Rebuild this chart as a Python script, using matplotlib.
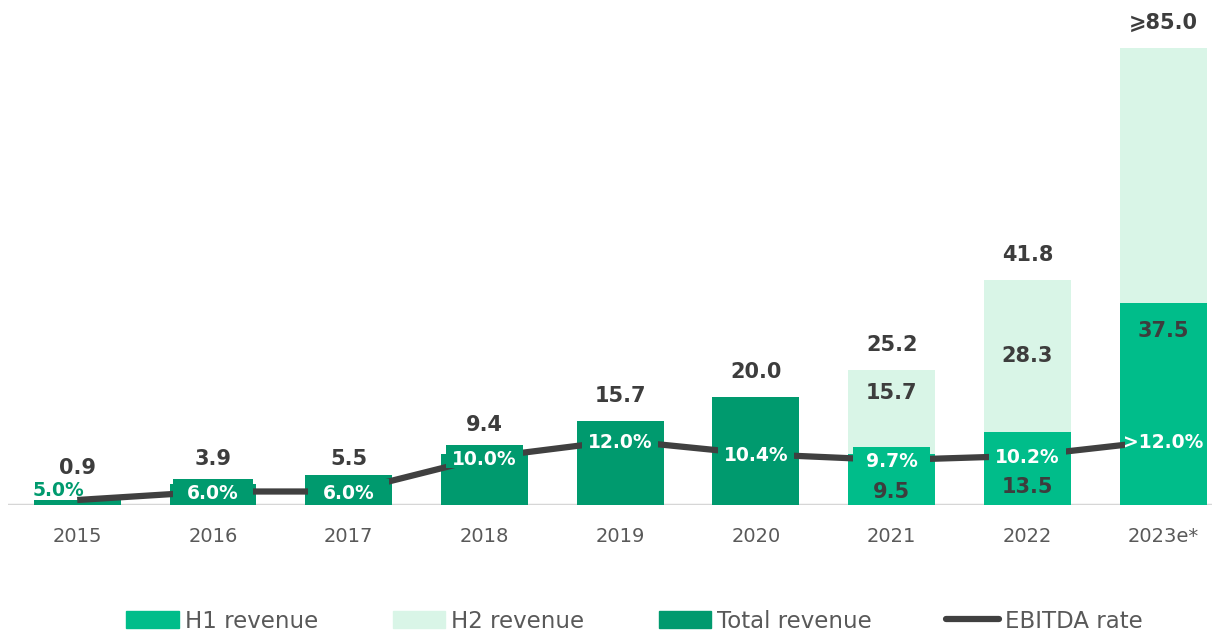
import matplotlib
matplotlib.use("Agg")
import matplotlib.pyplot as plt
from matplotlib.patches import Patch
from matplotlib.lines import Line2D
import numpy as np

years = ["2015", "2016", "2017", "2018", "2019", "2020", "2021", "2022", "2023e*"]
total_revenue = [0.9, 3.9, 5.5, 9.4, 15.7, 20.0, None, None, None]
h1_revenue = [None, None, None, None, None, None, 9.5, 13.5, 37.5]
h2_revenue = [None, None, None, None, None, None, 15.7, 28.3, 47.5]
top_labels = ["0.9", "3.9", "5.5", "9.4", "15.7", "20.0", "25.2", "41.8", "\u2a7e85.0"]
h1_labels = [None, None, None, None, None, None, "9.5", "13.5", "37.5"]
h2_labels = [None, None, None, None, None, None, "15.7", "28.3", None]
ebitda_rate = [5.0, 6.0, 6.0, 10.0, 12.0, 10.4, 9.7, 10.2, 12.0]
rate_labels = ["5.0%", "6.0%", "6.0%", "10.0%", "12.0%", "10.4%", "9.7%", "10.2%", ">12.0%"]

C_H1 = "#00bd8a"
C_H2 = "#d9f5e7"
C_TOTAL = "#009a6e"
C_LINE = "#404040"
C_TEXT = "#3d3d3d"

fig = plt.figure(figsize=(12.12, 6.37), dpi=100)
ax = fig.add_axes([8 / 1212, 1 - 505 / 637, 1 - 8 / 1212, 505 / 637])
ax2 = ax.twinx()

x = np.arange(len(years))
w = 0.64

tot = [v if v is not None else 0 for v in total_revenue]
h1 = [v if v is not None else 0 for v in h1_revenue]
h2 = [v if v is not None else 0 for v in h2_revenue]
ax.bar(x, tot, w, color=C_TOTAL, zorder=2)
ax.bar(x, h1, w, color=C_H1, zorder=2)
ax.bar(x, h2, w, bottom=h1, color=C_H2, zorder=2)

ax.set_xlim(-0.51, 8.36)
ax.set_ylim(0, 505 / 5.376)
ax2.set_ylim((542.5 - 505) / 8.5, 542.5 / 8.5)

# line + label boxes on secondary axis
ax2.plot(x, ebitda_rate, color=C_LINE, lw=4.5, solid_capstyle="butt", zorder=3)
box_up, box_down = 1.5, 1.2
box_colors = [C_TOTAL] * 6 + [C_H1] * 3
for i in range(1, len(years)):
    bw = w * 0.93 if i < 3 else w * 0.88
    ax2.bar(x[i], box_up + box_down, bw, bottom=ebitda_rate[i] - box_down,
            color=box_colors[i], zorder=4)
    ax2.text(x[i], ebitda_rate[i] - 0.2, rate_labels[i], ha="center", va="center",
             color="white", fontsize=13.5, fontweight="bold", zorder=5)
ax2.text(x[0] - w / 2 - 0.01, ebitda_rate[0] + 1.15, rate_labels[0], ha="left", va="center",
         color=C_TOTAL, fontsize=13.5, fontweight="bold", zorder=5)

# inner stacked labels
h1_pos = [None] * 6 + [2.4, 3.3, 32.4]
h2_pos = [None] * 6 + [20.8, 27.7, None]
for i in range(len(years)):
    if h1_labels[i]:
        ax.text(x[i], h1_pos[i], h1_labels[i], ha="center", va="center",
                color=C_TEXT, fontsize=15, fontweight="bold", zorder=6)
    if h2_labels[i]:
        ax.text(x[i], h2_pos[i], h2_labels[i], ha="center", va="center",
                color=C_TEXT, fontsize=15, fontweight="bold", zorder=6)

# total labels: above the rate box for the short bars, above the bar otherwise
fig.canvas.draw()
for i in range(len(years)):
    total = tot[i] + h1[i] + h2[i]
    if total < ebitda_rate[i] * 1.2 or i == 3:
        top = ax2.transData.transform((x[i], ebitda_rate[i] + 1.2))[1]
        off = 16
    else:
        top = ax.transData.transform((x[i], total))[1]
        off = 18
    ax.annotate(top_labels[i], xy=(x[i], ax.transData.inverted().transform((0, top))[1]),
                xytext=(0, off), textcoords="offset points", ha="center", va="center",
                color=C_TEXT, fontsize=15, fontweight="bold", zorder=6,
                annotation_clip=False)

for a in (ax, ax2):
    for s in a.spines.values():
        s.set_visible(False)
ax2.set_yticks([])
ax.set_yticks([])
ax.axhline(0, color="#d6d6d6", lw=2.5, zorder=1)
ax.set_xticks(x)
ax.set_xticklabels(years, fontsize=14, color="#595959")
ax.tick_params(axis="x", length=0, pad=16)

handles = [Patch(color=C_H1), Patch(color=C_H2), Patch(color=C_TOTAL),
           Line2D([0], [0], color=C_LINE, lw=4.5, solid_capstyle="round")]
fig.legend(handles, ["H1 revenue", "H2 revenue", "Total revenue", "EBITDA rate"],
           loc="center", bbox_to_anchor=(0.5235, 1 - 621 / 637), ncol=4, frameon=False,
           fontsize=16.5, handlelength=2.3, handletextpad=0.25, columnspacing=3.25,
           labelcolor="#595959")

fig.savefig("out.png", dpi=100)
